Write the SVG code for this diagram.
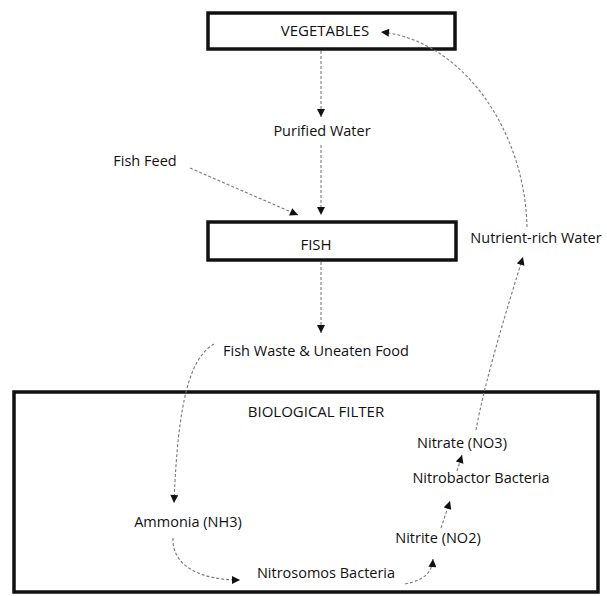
<svg xmlns="http://www.w3.org/2000/svg" width="607" height="596" viewBox="0 0 607 596">
<style>
  .box { fill: #fff; stroke: #111; stroke-width: 3.5; }
  .lbl { font-family: "Open Sans", "Noto Sans", sans-serif; font-size: 14.5px; fill: #111; text-anchor: middle; }
  .cap { font-size: 15px; }
  .con { fill: none; stroke: #7a7a7a; stroke-width: 1.1; stroke-dasharray: 3 2; }
</style>
<defs>
  <marker id="ah" viewBox="0 0 10 10" refX="10" refY="5" markerWidth="9" markerHeight="8" markerUnits="userSpaceOnUse" orient="auto">
    <path d="M0,0 L10,5 L0,10 z" fill="#111"/>
  </marker>
</defs>
<rect width="607" height="596" fill="#fff"/>

<g id="vegetables">
  <rect class="box" x="208" y="13" width="247" height="36"/>
  <text class="lbl cap" x="325" y="36">VEGETABLES</text>
</g>
<g id="purified-water">
  <text class="lbl" x="322" y="136">Purified Water</text>
</g>
<g id="fish-feed">
  <text class="lbl" x="145" y="166">Fish Feed</text>
</g>
<g id="fish">
  <rect class="box" x="208" y="222" width="248" height="38"/>
  <text class="lbl cap" x="316" y="250">FISH</text>
</g>
<g id="nutrient-rich-water">
  <text class="lbl" x="536" y="243">Nutrient-rich Water</text>
</g>
<g id="fish-waste">
  <text class="lbl" x="316" y="356">Fish Waste &amp; Uneaten Food</text>
</g>
<g id="biological-filter">
  <rect class="box" x="14" y="392" width="584" height="200"/>
  <text class="lbl cap" x="316" y="417">BIOLOGICAL FILTER</text>
</g>
<g id="nitrate">
  <text class="lbl" x="462" y="448">Nitrate (NO3)</text>
</g>
<g id="nitrobactor">
  <text class="lbl" x="481" y="483">Nitrobactor Bacteria</text>
</g>
<g id="nitrite">
  <text class="lbl" x="438" y="543">Nitrite (NO2)</text>
</g>
<g id="ammonia">
  <text class="lbl" x="188" y="527">Ammonia (NH3)</text>
</g>
<g id="nitrosomos">
  <text class="lbl" x="326" y="578">Nitrosomos Bacteria</text>
</g>

<g id="connectors">
  <path class="con" d="M321,51 L321,117" marker-end="url(#ah)"/>
  <path class="con" d="M321,145 L321,215" marker-end="url(#ah)"/>
  <path class="con" d="M190,168 L298,215" marker-end="url(#ah)"/>
  <path class="con" d="M321,262 L321,333" marker-end="url(#ah)"/>
  <path class="con" d="M214,344 C190,358 178,400 174,503" marker-end="url(#ah)"/>
  <path class="con" d="M173,538 C172,566 200,580 240,580" marker-end="url(#ah)"/>
  <path class="con" d="M405,584 C425,580 432,572 433,559" marker-end="url(#ah)"/>
  <path class="con" d="M441,528 L450,501" marker-end="url(#ah)"/>
  <path class="con" d="M457,471 L462,455" marker-end="url(#ah)"/>
  <path class="con" d="M476,430 C485,380 508,305 523,257" marker-end="url(#ah)"/>
  <path class="con" d="M527,227 C525,130 462,40 381,32" marker-end="url(#ah)"/>
</g>
</svg>
